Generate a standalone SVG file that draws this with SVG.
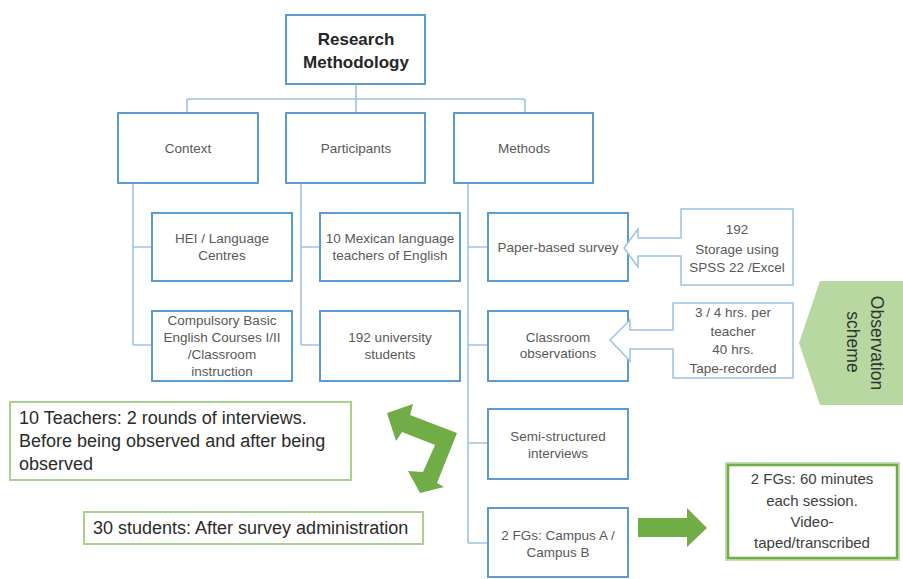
<svg xmlns="http://www.w3.org/2000/svg" width="903" height="579" viewBox="0 0 903 579">
<style>
.bx{fill:#fff;stroke:#5b9bd5;stroke-width:2}
.co{fill:#fff;stroke:#9dc3e6;stroke-width:1.5}
.gb{fill:#fff;stroke:#a9d18e;stroke-width:2}
.ln{fill:none;stroke:#9dc3e6;stroke-width:1.6}
.t{font-family:"Liberation Sans",Arial,sans-serif;font-size:13.5px;fill:#595959;text-anchor:middle}
.tl{font-family:"Liberation Sans",Arial,sans-serif;font-size:18px;fill:#2b2b2b}
.tv{font-family:"Liberation Sans",Arial,sans-serif;font-size:17.5px;fill:#333;text-anchor:middle}
.tf{font-family:"Liberation Sans",Arial,sans-serif;font-size:15px;fill:#404040;text-anchor:middle}
.tb{font-family:"Liberation Sans",Arial,sans-serif;font-size:17px;font-weight:bold;fill:#262626;text-anchor:middle}
.ar{fill:#70ad47}
</style>
<rect width="903" height="579" fill="#fff"/>
<g id="connectors">
<path class="ln" d="M356,84V99M187,99H525M187,99V113M356,99V113M525,99V113"/>
<path class="ln" d="M133,183V345M133,247H152M133,345H152"/>
<path class="ln" d="M301,183V345M301,247H320M301,345H320"/>
<path class="ln" d="M468,183V543M468,247H488M468,345H488M468,443H488M468,543H488"/>
<polygon class="ar" points="387,413 413,404 410,415 457,433 437,483 444,487 420,493 408,471 423,472 435,445 402,432 396,441"/>
<polygon class="ar" points="638,518 687,518 687,508 707,528 687,547 687,537 638,537"/>
</g>
<g id="research-methodology">
<rect class="bx" x="286" y="15" width="139" height="69"/>
<text class="tb" x="356" y="45">Research</text>
<text class="tb" x="356" y="68">Methodology</text>
</g>
<g id="context">
<rect class="bx" x="118" y="113" width="140" height="70"/>
<text class="t" x="188" y="153">Context</text>
</g>
<g id="participants">
<rect class="bx" x="286" y="113" width="139" height="70"/>
<text class="t" x="356" y="153">Participants</text>
</g>
<g id="methods">
<rect class="bx" x="454" y="113" width="139" height="70"/>
<text class="t" x="524" y="153">Methods</text>
</g>
<g id="hei">
<rect class="bx" x="152" y="213" width="140" height="68"/>
<text class="t" x="222" y="243">HEI / Language</text>
<text class="t" x="222" y="260">Centres</text>
</g>
<g id="compulsory">
<rect class="bx" x="152" y="311" width="140" height="70"/>
<text class="t" x="222" y="325">Compulsory Basic</text>
<text class="t" x="222" y="342">English Courses I/II</text>
<text class="t" x="222" y="359">/Classroom</text>
<text class="t" x="222" y="376">instruction</text>
</g>
<g id="teachers">
<rect class="bx" x="320" y="213" width="140" height="68"/>
<text class="t" x="390" y="243">10 Mexican language</text>
<text class="t" x="390" y="260">teachers of English</text>
</g>
<g id="students">
<rect class="bx" x="320" y="311" width="140" height="70"/>
<text class="t" x="390" y="342">192 university</text>
<text class="t" x="390" y="359">students</text>
</g>
<g id="survey">
<rect class="bx" x="488" y="213" width="140" height="68"/>
<text class="t" x="558" y="252">Paper-based survey</text>
</g>
<g id="observations">
<rect class="bx" x="488" y="311" width="140" height="70"/>
<text class="t" x="558" y="342">Classroom</text>
<text class="t" x="558" y="358">observations</text>
</g>
<g id="interviews">
<rect class="bx" x="488" y="409" width="140" height="70"/>
<text class="t" x="558" y="441">Semi-structured</text>
<text class="t" x="558" y="458">interviews</text>
</g>
<g id="fgs">
<rect class="bx" x="488" y="508" width="140" height="69"/>
<text class="t" x="558" y="540">2 FGs: Campus A /</text>
<text class="t" x="558" y="557">Campus B</text>
</g>
<g id="survey-callout">
<path class="co" d="M681,209H793V285H681V256H638V267L624,248L638,229V238H681Z"/>
<text class="t" x="737" y="234">192</text>
<text class="t" x="737" y="254">Storage using</text>
<text class="t" x="737" y="272">SPSS 22 /Excel</text>
</g>
<g id="observation-callout">
<path class="co" d="M673,303H793V378H673V349H630V361L610,340L630,320V330H673Z"/>
<text class="t" x="733" y="317">3 / 4 hrs. per</text>
<text class="t" x="733" y="336">teacher</text>
<text class="t" x="733" y="354">40 hrs.</text>
<text class="t" x="733" y="373">Tape-recorded</text>
</g>
<g id="observation-scheme">
<polygon points="820,281 903,281 903,405 820,405 799,343" fill="#b7d8a0"/>
<text class="tv" transform="translate(871,343) rotate(90)">Observation</text>
<text class="tv" transform="translate(847,342) rotate(90)">scheme</text>
</g>
<g id="teacher-interviews">
<rect class="gb" x="10" y="402" width="341" height="78"/>
<text class="tl" x="19" y="424">10 Teachers: 2 rounds of interviews.</text>
<text class="tl" x="19" y="447">Before being observed and after being</text>
<text class="tl" x="19" y="470">observed</text>
</g>
<g id="student-interviews">
<rect class="gb" x="84" y="512" width="339" height="32"/>
<text class="tl" x="93" y="534">30 students: After survey administration</text>
</g>
<g id="fg-details">
<rect x="728" y="465" width="169" height="93" fill="#fff" stroke="#c5e0b4" stroke-width="6"/>
<rect x="728" y="465" width="169" height="93" fill="#fff" stroke="#70ad47" stroke-width="2.5"/>
<text class="tf" x="812" y="484">2 FGs: 60 minutes</text>
<text class="tf" x="812" y="506">each session.</text>
<text class="tf" x="812" y="527">Video-</text>
<text class="tf" x="812" y="548">taped/transcribed</text>
</g>
</svg>
